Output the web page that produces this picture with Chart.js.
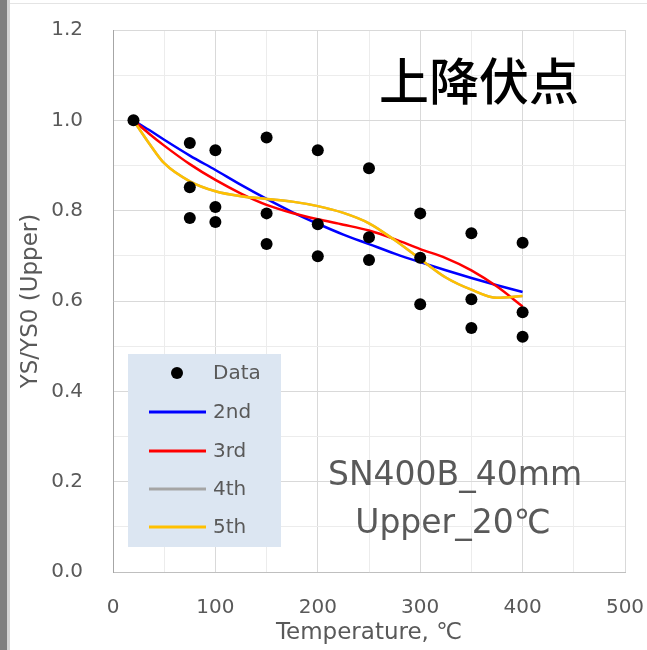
<!DOCTYPE html>
<html>
<head>
<meta charset="utf-8">
<script src="https://cdn.jsdelivr.net/npm/chart.js@4.4.1/dist/chart.umd.min.js"></script>
<style>
  html, body { margin: 0; padding: 0; background: #fff; }
  #wrap { position: relative; width: 647px; height: 650px; }
  #edge { position: absolute; left: 0; top: 0; width: 7px; height: 650px; background: #7f7f7f; border-right: 3px solid #d4d4d4; }
  #topline { position: absolute; left: 10px; top: 3px; width: 637px; height: 1px; background: #e4e4e4; }
</style>
</head>
<body>
<div id="wrap">
  <canvas id="chart" width="647" height="650"></canvas>
  <div id="edge"></div>
  <div id="topline"></div>
</div>
<script>
// measured points: temperature (°C) and YS/YS0
const dataT = [20, 75, 75, 75, 100, 100, 100, 150, 150, 150, 200, 200, 200,
               250, 250, 250, 300, 300, 300, 350, 350, 350, 400, 400, 400]
const dataY = [1.0, 0.950, 0.852, 0.784, 0.934, 0.808, 0.775, 0.962, 0.794, 0.726,
               0.934, 0.770, 0.699, 0.894, 0.741, 0.691, 0.794, 0.696, 0.593,
               0.750, 0.604, 0.540, 0.729, 0.575, 0.521]

// fitted curves sampled along temperature
const fitT = [20, 35, 50, 75, 100, 125, 150, 175, 200, 225, 250, 275, 300, 325, 350, 375, 400]
const fit2 = [1.0, 0.979, 0.957, 0.922, 0.890, 0.857, 0.826, 0.797, 0.771, 0.747, 0.726, 0.705, 0.686, 0.668, 0.651, 0.635, 0.620]
const fit3 = [1.0, 0.971, 0.944, 0.903, 0.868, 0.838, 0.813, 0.795, 0.781, 0.769, 0.756, 0.737, 0.715, 0.695, 0.668, 0.632, 0.588]
const fit4 = [1.0, 0.950, 0.905, 0.865, 0.843, 0.832, 0.826, 0.820, 0.810, 0.795, 0.772, 0.735, 0.693, 0.652, 0.625, 0.607, 0.611]
const fit5 = [1.0, 0.950, 0.905, 0.865, 0.843, 0.832, 0.826, 0.820, 0.810, 0.795, 0.772, 0.735, 0.693, 0.652, 0.625, 0.607, 0.611]

const seriesNames = ['Data', '2nd', '3rd', '4th', '5th']
const seriesColors = ['#000000', '#0000ff', '#ff0000', '#a5a5a5', '#ffc000']

const xMin = 0, xMax = 500, xStep = 50
const yMin = 0, yMax = 1.2, yStep = 0.05

const titleText = '上降伏点'
const noteLines = ['SN400B_40mm', 'Upper_20℃']

const TEXT = '#595959'
const LATIN = '"DejaVu Sans", sans-serif'

const pts = (xs, ys) => xs.map((x, i) => ({ x, y: ys[i] }))
const isMajor = (v, every) => Math.abs(v / every - Math.round(v / every)) < 1e-6

function curve(label, values, color, order) {
  return {
    label,
    data: pts(fitT, values),
    showLine: true,
    borderColor: color,
    backgroundColor: color,
    borderWidth: 2.5,
    pointRadius: 0,
    cubicInterpolationMode: 'monotone',
    order,
  }
}

// legend box, title and notes drawn on top of the plot
const overlay = {
  id: 'overlay',
  afterDatasetsDraw(chart) {
    const { ctx, chartArea: a } = chart
    ctx.save()

    // legend
    const bx = a.left + 15, by = a.top + 324, bw = 153, bh = 193
    ctx.fillStyle = '#dce6f2'
    ctx.fillRect(bx, by, bw, bh)
    ctx.font = '20px ' + LATIN
    ctx.textBaseline = 'middle'
    ctx.textAlign = 'left'
    const rowY = [19, 58, 97, 135, 173]
    seriesNames.forEach((name, i) => {
      const y = by + rowY[i]
      if (i === 0) {
        ctx.fillStyle = seriesColors[0]
        ctx.beginPath()
        ctx.arc(bx + 49, y, 6, 0, Math.PI * 2)
        ctx.fill()
      } else {
        ctx.strokeStyle = seriesColors[i]
        ctx.lineWidth = 3
        ctx.beginPath()
        ctx.moveTo(bx + 21, y)
        ctx.lineTo(bx + 78, y)
        ctx.stroke()
      }
      ctx.fillStyle = TEXT
      ctx.fillText(name, bx + 85, y + 1)
    })

    // big title
    ctx.fillStyle = '#000'
    ctx.font = '500 50px "Noto Sans CJK JP", sans-serif'
    ctx.textAlign = 'center'
    ctx.textBaseline = 'alphabetic'
    ctx.fillText(titleText, 479, 100)

    // specimen notes
    ctx.fillStyle = TEXT
    ctx.font = '33px ' + LATIN
    ctx.fillText(noteLines[0], 455, 485)
    ctx.fillText(noteLines[1], 453, 533)

    ctx.restore()
  }
}

const chart = new Chart(document.getElementById('chart'), {
  type: 'scatter',
  data: {
    datasets: [
      {
        label: seriesNames[0],
        data: pts(dataT, dataY),
        pointRadius: 6,
        pointHoverRadius: 6,
        pointBackgroundColor: seriesColors[0],
        pointBorderWidth: 0,
        order: 0,
      },
      curve(seriesNames[1], fit2, seriesColors[1], 4),
      curve(seriesNames[2], fit3, seriesColors[2], 3),
      curve(seriesNames[3], fit4, seriesColors[3], 2),
      curve(seriesNames[4], fit5, seriesColors[4], 1),
    ]
  },
  options: {
    responsive: false,
    animation: false,
    events: [],
    layout: { padding: { top: 30, right: 22, left: 0, bottom: 0 } },
    plugins: { legend: { display: false }, tooltip: { enabled: false } },
    scales: {
      x: {
        type: 'linear',
        min: xMin, max: xMax,
        afterFit: s => { s.height = 78 },
        ticks: {
          stepSize: xStep,
          padding: 0,
          color: TEXT,
          font: { family: LATIN, size: 20 },
          callback: v => isMajor(v, 100) ? String(v) : '',
        },
        grid: {
          tickLength: 24,
          tickColor: 'rgba(0,0,0,0)',
          color: c => c.tick && isMajor(c.tick.value, 100) ? '#d9d9d9' : '#ececec',
        },
        border: { color: '#bfbfbf' },
        title: {
          display: true,
          text: 'Temperature, ℃',
          color: TEXT,
          font: { family: LATIN, size: 23 },
          padding: { top: 0, bottom: 3 },
        },
      },
      y: {
        min: yMin, max: yMax,
        afterFit: s => { s.width = 113 },
        ticks: {
          stepSize: yStep,
          padding: 0,
          color: TEXT,
          font: { family: LATIN, size: 20 },
          callback: v => isMajor(v, 0.2) ? v.toFixed(1) : '',
        },
        grid: {
          tickLength: 30,
          tickColor: 'rgba(0,0,0,0)',
          color: c => c.tick && isMajor(c.tick.value, 0.2) ? '#d9d9d9' : '#ececec',
        },
        border: { color: '#a6a6a6' },
        title: {
          display: true,
          text: 'YS/YS0 (Upper)',
          color: TEXT,
          font: { family: LATIN, size: 23 },
          padding: { top: 17, bottom: 0 },
        },
      }
    }
  },
  plugins: [overlay]
})
</script>
</body>
</html>
